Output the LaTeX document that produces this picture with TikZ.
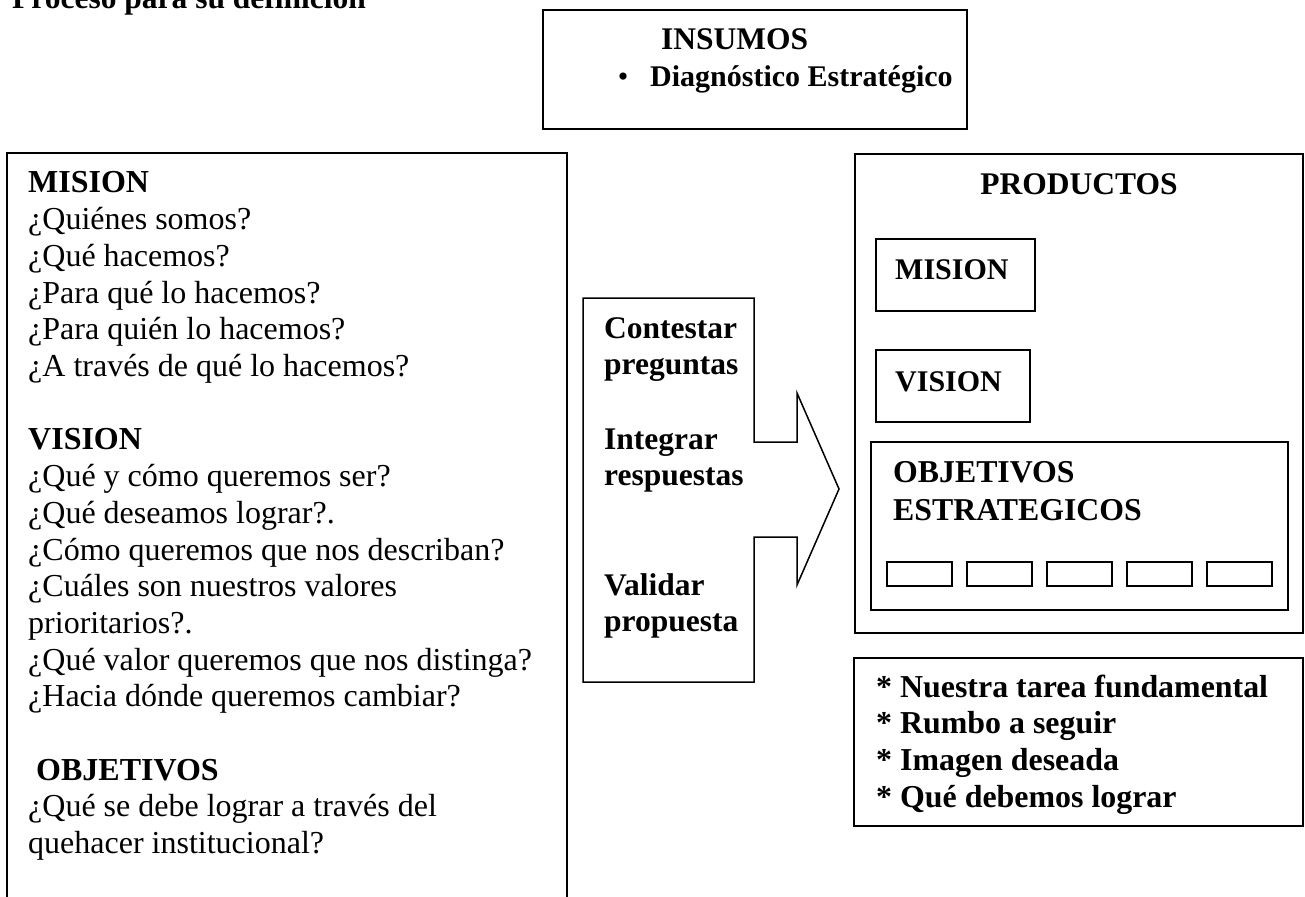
\documentclass[tikz,border=0pt]{standalone}
\usepackage{fontspec}
\setmainfont{Liberation Serif}
\begin{document}
\begin{tikzpicture}[x=1pt,y=-1pt,
  box/.style={draw=black, line width=1.5pt},
  txt/.style={inner sep=0pt, anchor=base west},
  body/.style={font=\fontsize{32}{36.7}\selectfont},
  bigb/.style={font=\bfseries\fontsize{31.5}{36.7}\selectfont},
]
\useasboundingbox (0,0) rectangle (1305,896);
\clip (0,0) rectangle (1305,896);

% title (cut off at top)
\node[txt, bigb] (title) at (12,9) {Proceso para su definición};

% INSUMOS
\draw[box] (543,10) rectangle (967,129);
\node[txt, bigb] (insumos) at (661,50) {INSUMOS};
\node[inner sep=0pt, anchor=base, font=\fontsize{30}{36}\selectfont] (bullet) at (623,87) {•};
\node[txt, font=\bfseries\fontsize{30}{36}\selectfont] (diag) at (650,87) {Diagnóstico Estratégico};

% left box
\draw[box] (7,153) rectangle (567,920);
\node[txt, body] (lefttext) at (28,193) {\begin{tabular}[t]{@{}l@{}}
\textbf{MISION}\\
¿Quiénes somos?\\
¿Qué hacemos?\\
¿Para qué lo hacemos?\\
¿Para quién lo hacemos?\\
¿A través de qué lo hacemos?\\
\\
\textbf{VISION}\\
¿Qué y cómo queremos ser?\\
¿Qué deseamos lograr?.\\
¿Cómo queremos que nos describan?\\
¿Cuáles son nuestros valores\\
prioritarios?.\\
¿Qué valor queremos que nos distinga?\\
¿Hacia dónde queremos cambiar?\\
\\
\ \textbf{OBJETIVOS}\\
¿Qué se debe lograr a través del\\
quehacer institucional?
\end{tabular}};

% middle arrow shape
\coordinate (m1) at (583,298);
\coordinate (m2) at (754,298);
\coordinate (m3) at (754,442);
\coordinate (m4) at (797,442);
\coordinate (m5) at (797,393);
\coordinate (tip) at (839,489);
\coordinate (m6) at (797,585);
\coordinate (m7) at (797,537);
\coordinate (m8) at (754,537);
\coordinate (m9) at (754,682);
\coordinate (m10) at (583,682);
\draw[box, line join=miter] (m1) -- (m2) -- (m3) -- (m4) -- (m5) -- (tip) -- (m6) -- (m7) -- (m8) -- (m9) -- (m10) -- cycle;
\node[txt, bigb] (contestar) at (604,338) {\begin{tabular}[t]{@{}l@{}}Contestar\\preguntas\end{tabular}};
\node[txt, bigb] (integrar) at (604,449) {\begin{tabular}[t]{@{}l@{}}Integrar\\respuestas\end{tabular}};
\node[txt, bigb] (validar) at (604,595) {\begin{tabular}[t]{@{}l@{}}Validar\\propuesta\end{tabular}};

% PRODUCTOS
\draw[box] (855,154) rectangle (1303,633);
\node[inner sep=0pt, anchor=base, bigb] (productos) at (1079,194) {PRODUCTOS};
\draw[box] (876,239) rectangle (1035,311);
\node[txt, font=\bfseries\fontsize{30}{34}\selectfont] (pmision) at (895,279) {MISION};
\draw[box] (876,350) rectangle (1030,422);
\node[txt, font=\bfseries\fontsize{30}{34}\selectfont] (pvision) at (895,391) {VISION};
\draw[box] (871,442) rectangle (1288,610);
\node[txt, font=\bfseries\fontsize{31.8}{38}\selectfont] (pobj) at (893,482) {\begin{tabular}[t]{@{}l@{}}OBJETIVOS\\ESTRATEGICOS\end{tabular}};
\foreach \i in {0,...,4} {
  \draw[box] ({887+80*\i},562) rectangle ++(65,24);
}

% bottom right
\draw[box] (854,658) rectangle (1303,826);
\node[txt, font=\bfseries\fontsize{31.9}{36.7}\selectfont] (resumen) at (876,697) {\begin{tabular}[t]{@{}l@{}}
{*} Nuestra tarea fundamental\\
{*} Rumbo a seguir\\
{*} Imagen deseada\\
{*} Qué debemos lograr
\end{tabular}};
\end{tikzpicture}
\end{document}
